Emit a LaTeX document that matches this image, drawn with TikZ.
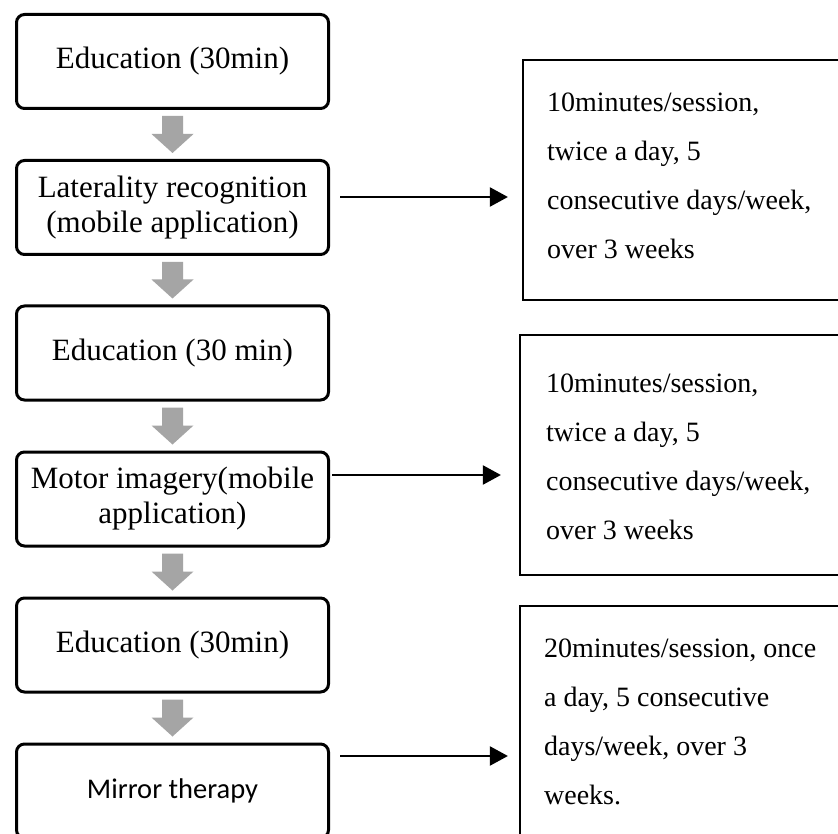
\documentclass[tikz,border=0pt]{standalone}
\usepackage{fontspec}
\setmainfont{Liberation Serif}
\newfontfamily\carlito{Carlito}
\usetikzlibrary{arrows.meta,calc}
\definecolor{arrowgray}{HTML}{A5A5A5}
\tikzset{
  stepbox/.style={draw, line width=3pt, rounded corners=8pt, minimum width=312pt,
    minimum height=94pt, inner sep=0pt, align=center,
    font=\fontsize{31}{35}\selectfont},
  infobox/.style={draw, line width=2.2pt, minimum width=340pt, minimum height=240pt,
    inner sep=0pt},
  infotext/.style={inner sep=0pt, text width=288pt, align=flush left,
    font=\fontsize{28}{49}\selectfont},
  conn/.style={line width=2.2pt, -{Triangle[length=18pt,width=19pt]}},
}
\newcommand\grayarrow[2]{%
  \fill[arrowgray] let \p1=(#1.south), \p2=(#2.north) in
    (\x1-10.5pt,\y1-6pt) -- (\x1+10.5pt,\y1-6pt) -- (\x1+10.5pt,\y2+25pt)
    -- (\x1+21pt,\y2+25pt) -- (\x1,\y2+6pt) -- (\x1-21pt,\y2+25pt)
    -- (\x1-10.5pt,\y2+25pt) -- cycle;}
\begin{document}
\begin{tikzpicture}[x=1pt,y=1pt]
\useasboundingbox (0,0) rectangle (838,-834);
\fill[white] (0,0) rectangle (838,-834);

\node[stepbox] (b1) at (172.5,-61.5) {Education (30min)};
\node[stepbox] (b2) at (172.5,-207.5) {Laterality recognition\\(mobile application)};
\node[stepbox] (b3) at (172.5,-353) {Education (30 min)};
\node[stepbox] (b4) at (172.5,-499) {Motor imagery(mobile\\application)};
\node[stepbox] (b5) at (172.5,-645) {Education (30min)};
\node[stepbox, font=\carlito\fontsize{28.5}{34}\selectfont] (b6) at (172.5,-791) {Mirror therapy};

\grayarrow{b1}{b2}
\grayarrow{b2}{b3}
\grayarrow{b3}{b4}
\grayarrow{b4}{b5}
\grayarrow{b5}{b6}

\node[infobox] (r1) at (693,-180) {};
\node[infobox] (r2) at (690,-455) {};
\node[infobox] (r3) at (690,-726) {};
\node[infotext, anchor=west] (t1) at ([xshift=25pt,yshift=4pt]r1.west) {10minutes/session,\\twice a day, 5\\consecutive days/week,\\over 3 weeks};
\node[infotext, anchor=west] (t2) at ([xshift=27pt,yshift=-2pt]r2.west) {10minutes/session,\\twice a day, 5\\consecutive days/week,\\over 3 weeks};
\node[infotext, anchor=west] (t3) at ([xshift=25pt,yshift=4pt]r3.west) {20minutes/session, once\\a day, 5 consecutive\\days/week, over 3\\weeks.};

\coordinate (s1) at ([xshift=10pt,yshift=10.5pt]b2.east);
\coordinate (e1) at (r1.west |- s1);
\draw[conn] (s1) -- ([xshift=-14pt]e1);
\coordinate (s2) at ([xshift=2pt,yshift=24pt]b4.east);
\coordinate (e2) at (r2.west |- s2);
\draw[conn] (s2) -- ([xshift=-18pt]e2);
\coordinate (s3) at ([xshift=10pt,yshift=35pt]b6.east);
\coordinate (e3) at (r3.west |- s3);
\draw[conn] (s3) -- ([xshift=-11pt]e3);
\end{tikzpicture}
\end{document}
